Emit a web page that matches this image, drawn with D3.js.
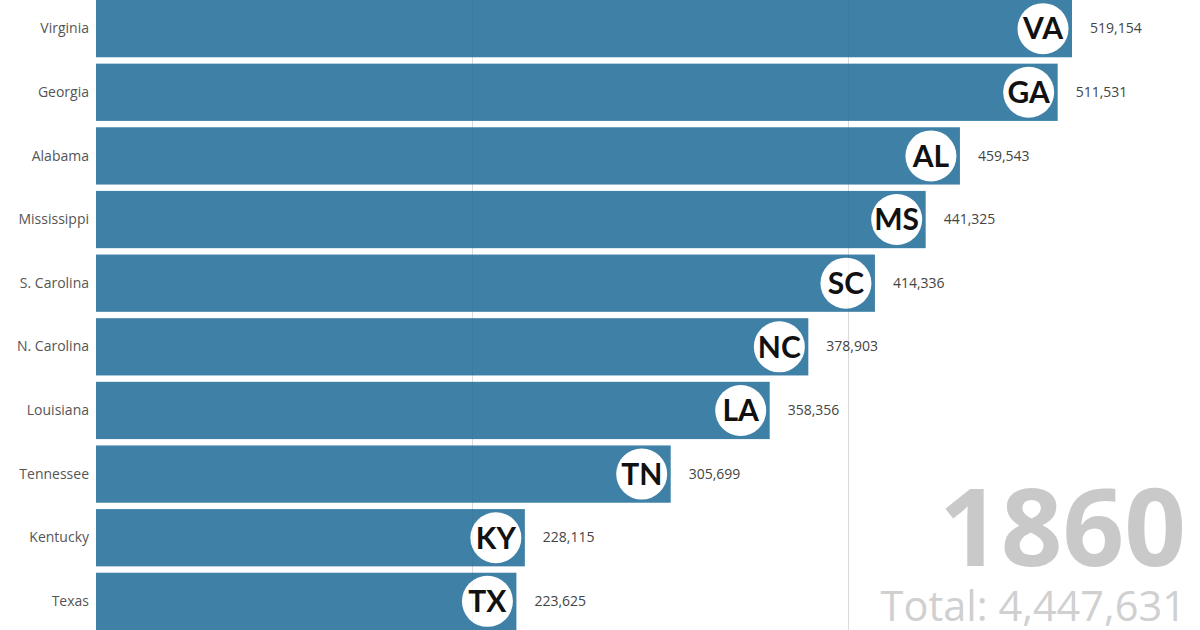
<!DOCTYPE html>
<html><head><meta charset="utf-8">
<script src="https://cdn.jsdelivr.net/npm/d3@7"></script>
<style>html,body{margin:0;padding:0;background:#fff;}svg{display:block;}</style>
</head><body>
<svg id="chart" width="1200" height="630"></svg>
<script>
const states = ["Virginia","Georgia","Alabama","Mississippi","S. Carolina","N. Carolina","Louisiana","Tennessee","Kentucky","Texas"];
const codes = ["VA","GA","AL","MS","SC","NC","LA","TN","KY","TX"];
const values = [519154,511531,459543,441325,414336,378903,358356,305699,228115,223625];
const gridValues = [200000, 400000];
const year = "1860";
const total = 4447631;

const svg = d3.select("#chart");
const x = d3.scaleLinear().domain([0, d3.max(values)]).range([96, 1072]);
const y = d3.scaleBand().domain(states).range([0, 630]).paddingInner(0.1);
const fmt = d3.format(",");
const data = states.map((s,i)=>({state:s, code:codes[i], value:values[i]}));

// year + total (behind)
svg.append("text").attr("x",1186).attr("y",566).attr("text-anchor","end")
  .style("font-family","'Open Sans'").style("font-weight",700).style("font-size","108px")
  .attr("fill","#c9c9c9").text(year);
svg.append("text").attr("x",1186).attr("y",621).attr("text-anchor","end")
  .style("font-family","'Open Sans'").style("font-weight",400).style("font-size","41.5px")
  .attr("fill","#d0d0d0").text("Total: " + fmt(total));

// gridlines under bars
svg.append("g").selectAll("line").data(gridValues).join("line")
  .attr("x1",d=>Math.round(x(d))+0.5).attr("x2",d=>Math.round(x(d))+0.5)
  .attr("y1",0).attr("y2",630).attr("stroke","#e3e3e3");

const g = svg.append("g").selectAll("g").data(data).join("g");
g.append("rect").attr("x",x(0)).attr("y",d=>y(d.state))
  .attr("width",d=>x(d.value)-x(0)).attr("height",y.bandwidth()).attr("fill","#3f80a7");
g.append("text").attr("x",x(0)-7).attr("y",d=>y(d.state)+y.bandwidth()/2)
  .attr("dy","0.33em").attr("text-anchor","end")
  .style("font-family","'Open Sans'").style("font-size","14px").attr("fill","#555").text(d=>d.state);
g.append("text").attr("x",d=>x(d.value)+18).attr("y",d=>y(d.state)+y.bandwidth()/2)
  .attr("dy","0.33em")
  .style("font-family","'Open Sans'").style("font-size","14px").attr("fill","#444").text(d=>fmt(d.value));
g.append("circle").attr("cx",d=>x(d.value)-29).attr("cy",d=>y(d.state)+y.bandwidth()/2)
  .attr("r",25.5).attr("fill","#fff");
g.append("text").attr("x",d=>x(d.value)-29).attr("y",d=>y(d.state)+y.bandwidth()/2)
  .attr("dy","0.36em").attr("text-anchor","middle")
  .style("font-family","Lato").style("font-weight",700).style("font-size","30px")
  .attr("fill","#111").text(d=>d.code);

// faint gridline overlay across bars
svg.append("g").selectAll("line").data(gridValues).join("line")
  .attr("x1",d=>Math.round(x(d))+0.5).attr("x2",d=>Math.round(x(d))+0.5)
  .attr("y1",0).attr("y2",630).attr("stroke","#000").attr("stroke-opacity",0.04);
</script>
</body></html>
